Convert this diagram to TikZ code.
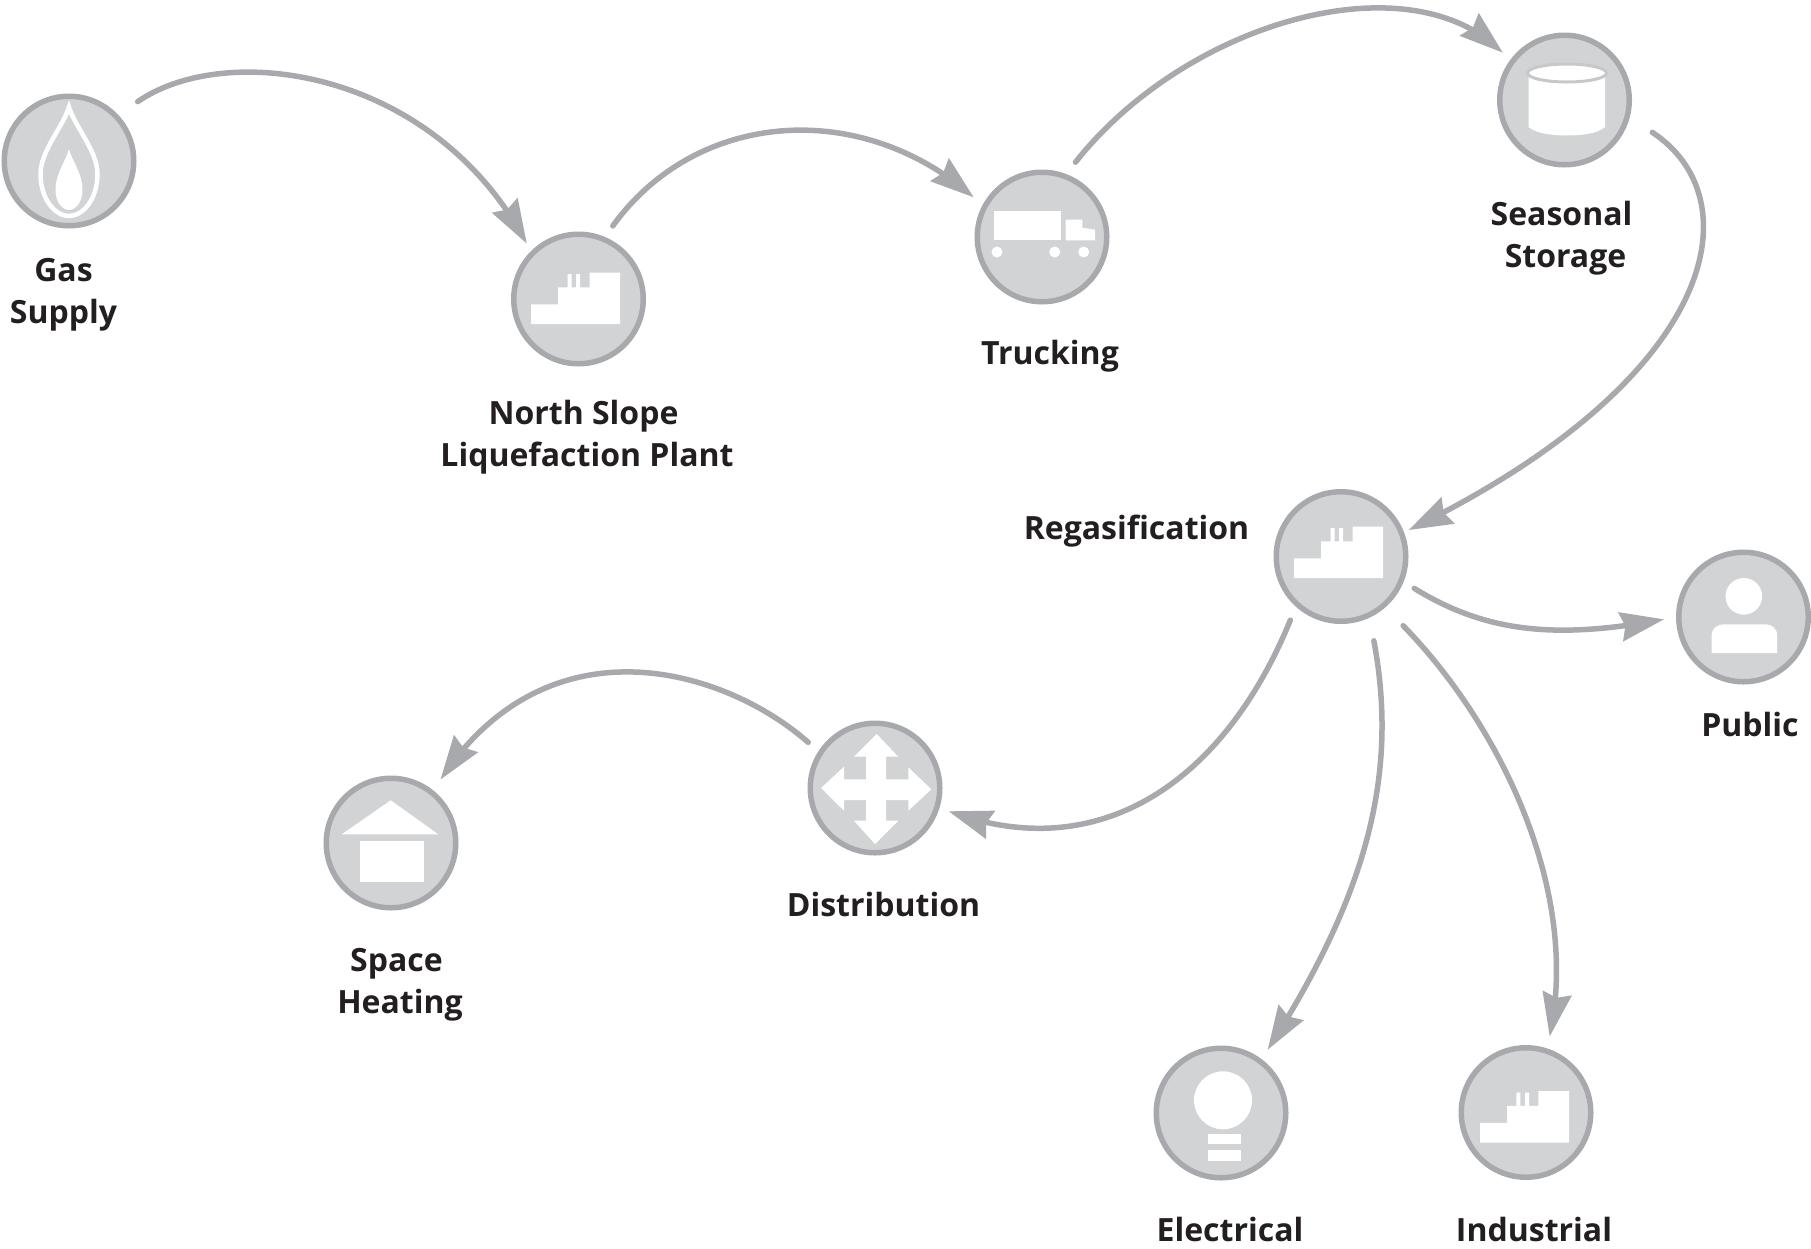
\documentclass[tikz,border=0pt]{standalone}
\usepackage{fontspec}
\setmainfont{Open Sans}
\usetikzlibrary{arrows.meta,bending}
\definecolor{ringgray}{HTML}{A7A9AC}
\definecolor{discgray}{HTML}{D1D3D4}
\definecolor{textdark}{HTML}{231F20}
\tikzset{
  disc/.style={circle,draw=ringgray,fill=discgray,line width=5.5pt,minimum size=129.5pt,inner sep=0pt},
  conn/.style={draw=ringgray,line width=5.5pt,line cap=round,
    -{Stealth[length=44pt,width=30pt,inset=5pt,fill=ringgray,line width=0pt,flex=0.6]}},
  lab/.style={text=textdark,font=\fontsize{32}{42}\selectfont\bfseries,align=center,inner sep=0pt},
  pics/factoryicon/.style={code={
    \fill[white] (-47.3,25)--(-47.3,5.3)--(-20.3,5.3)--(-20.3,-11.7)--(-11,-11.7)--(-11,-25)--(-7,-25)--(-7,-11.7)
      --(-2.3,-11.7)--(-2.3,-25)--(1.7,-25)--(1.7,-11.7)--(11,-11.7)--(11,-26.3)--(41.7,-26.3)--(41.7,25)--cycle;
  }},
  pics/flameicon/.style={code={
    \draw[white,line width=4.5pt,miter limit=10]
      (0,-54) .. controls (-6,-34) and (-28.5,-10) .. (-28.5,13) .. controls (-28.5,38) and (-14,55) .. (0,55)
      .. controls (14,55) and (28.5,38) .. (28.5,13) .. controls (28.5,-10) and (6,-34) .. (0,-54) -- cycle;
    \fill[white] (0,-12) .. controls (-3,0) and (-13.5,12) .. (-13.5,29) .. controls (-13.5,42) and (-6,49) .. (0,49)
      .. controls (6,49) and (13.5,42) .. (13.5,29) .. controls (13.5,12) and (3,0) .. (0,-12) -- cycle;
  }},
  pics/truckicon/.style={code={
    \fill[white] (-47.7,-25.7) rectangle (19.3,3.3);
    \fill[white] (23.7,3.3)--(23.7,-17.3)--(40.3,-17.3)--(40.3,-9.3)--(53,-7.3)--(53,3.3)--cycle;
    \fill[white] (-45,15) circle[radius=5.5] (12.7,15) circle[radius=5.5] (41.7,15) circle[radius=5.5];
  }},
  pics/tankicon/.style={code={
    \fill[white] (-36,-24) -- (-36,27) .. controls (-28,34) and (-10,35.5) .. (2.5,35.5)
      .. controls (15,35.5) and (33,34) .. (40.5,27) -- (40.5,-24) -- cycle;
    \draw[ringgray!25!discgray,line width=3pt,fill=white] (2.5,-27) ellipse[x radius=39.5,y radius=9];
  }},
  pics/crossicon/.style={code={
    \fill[white] (1.7,-54)--(23.3,-31.3)--(11,-31.3)--(11,-8.7)--(33.3,-8.7)--(33.3,-20.7)--(56.3,1.3)--(33.3,22.7)
      --(33.3,12)--(11,12)--(11,32.7)--(23.3,32.7)--(0,56)--(-21,32.7)--(-9,32.7)--(-9,12)--(-31,12)--(-31,22.7)
      --(-54,0)--(-31,-21.3)--(-31,-8.7)--(-9,-8.7)--(-9,-31.3)--(-21,-31.3)--cycle;
  }},
  pics/houseicon/.style={code={
    \fill[white] (-49.3,-8.7)--(-0.3,-42.7)--(47.3,-8.7)--cycle;
    \fill[white] (-31,-1.7) rectangle (33,39.3);
  }},
  pics/bulbicon/.style={code={
    \fill[white] (2,-12.7) circle[radius=29];
    \fill[white] (-13,20.7) rectangle (20,31.3);
    \fill[white] (-13,37.3) rectangle (20,48);
  }},
  pics/personicon/.style={code={
    \fill[white] (0.3,-20.7) circle[radius=18.3];
    \fill[white] (-32,36) -- (-32,19) .. controls (-32,11) and (-26,7.3) .. (-20,7.3) -- (22,7.3)
      .. controls (28,7.3) and (33.7,11) .. (33.7,19) -- (33.7,36) -- cycle;
  }},
}
\begin{document}
\begin{tikzpicture}[x=1pt,y=-1pt]
\useasboundingbox (0,0) rectangle (1811,1248);
% discs
\node[disc] (gas) at (69,161) {};
\node[disc] (plant) at (578.5,299) {};
\node[disc] (truck) at (1042,237) {};
\node[disc] (storage) at (1564.5,100) {};
\node[disc] (regas) at (1341,556.5) {};
\node[disc] (public) at (1743.5,617) {};
\node[disc] (distribution) at (875,788) {};
\node[disc] (heating) at (391,843) {};
\node[disc] (electrical) at (1221,1113) {};
\node[disc] (industrial) at (1526,1112.5) {};
% icons
\pic at (gas) {flameicon};
\pic at (plant) {factoryicon};
\pic at (truck) {truckicon};
\pic at (storage) {tankicon};
\pic at ([shift={(0.5,-3.5)}]regas) {factoryicon};
\pic at (public) {personicon};
\pic at (distribution) {crossicon};
\pic at (heating) {houseicon};
\pic at (electrical) {bulbicon};
\pic at ([shift={(1.3,5)}]industrial) {factoryicon};
% connectors
\draw[conn,shorten <=23.5pt,shorten >=9pt] (gas.43) .. controls (230,38) and (440,70) .. (plant.135);
\draw[conn,shorten <=13.5pt,shorten >=12pt] (plant.67) .. controls (700,105) and (870,98) .. (truck.152);
\draw[conn,shorten <=15pt,shorten >=10.5pt] (truck.69) .. controls (1190,17) and (1420,-45) .. (storage.144);
\draw[conn,shorten <=27pt,shorten >=5.5pt] (storage.-15) .. controls (1755,200) and (1720,380) .. (regas.21.6);
\draw[conn,shorten <=12.5pt,shorten >=12.5pt] (regas.-22.7) .. controls (1490,635) and (1560,640) .. (public.180);
\draw[conn,shorten <=14.5pt,shorten >=10pt] (regas.228) .. controls (1225,780) and (1100,872) .. (distribution.-17);
\draw[conn,shorten <=13.5pt,shorten >=13.5pt] (distribution.147) .. controls (720,665) and (540,615) .. (heating.51);
\draw[conn,shorten <=23.5pt,shorten >=11.5pt] (regas.-65) .. controls (1400,780) and (1365,900) .. (electrical.53.7);
\draw[conn,shorten <=25.5pt,shorten >=12.5pt] (regas.-49) .. controls (1505,730) and (1585,900) .. (industrial.72.5);
% labels
\node[lab] (lgas) at (63.5,294.5) {Gas\\Supply};
\node[lab] (lplant) at (587,437) {North Slope\hspace*{7pt}\\Liquefaction Plant};
\node[lab] (ltruck) at (1050,356.5) {Trucking};
\node[lab] (lstorage) at (1561.5,238) {Seasonal\\\hspace*{8pt}Storage};
\node[lab] (lregas) at (1136.5,531.5) {Regasification};
\node[lab] (lpublic) at (1750,724) {Public};
\node[lab] (ldist) at (883.5,904) {Distribution};
\node[lab] (lheat) at (400,985) {Space\hspace*{7pt}\\Heating};
\node[lab] (lelec) at (1230,1229) {Electrical};
\node[lab] (lind) at (1534,1229) {Industrial};
\end{tikzpicture}
\end{document}
